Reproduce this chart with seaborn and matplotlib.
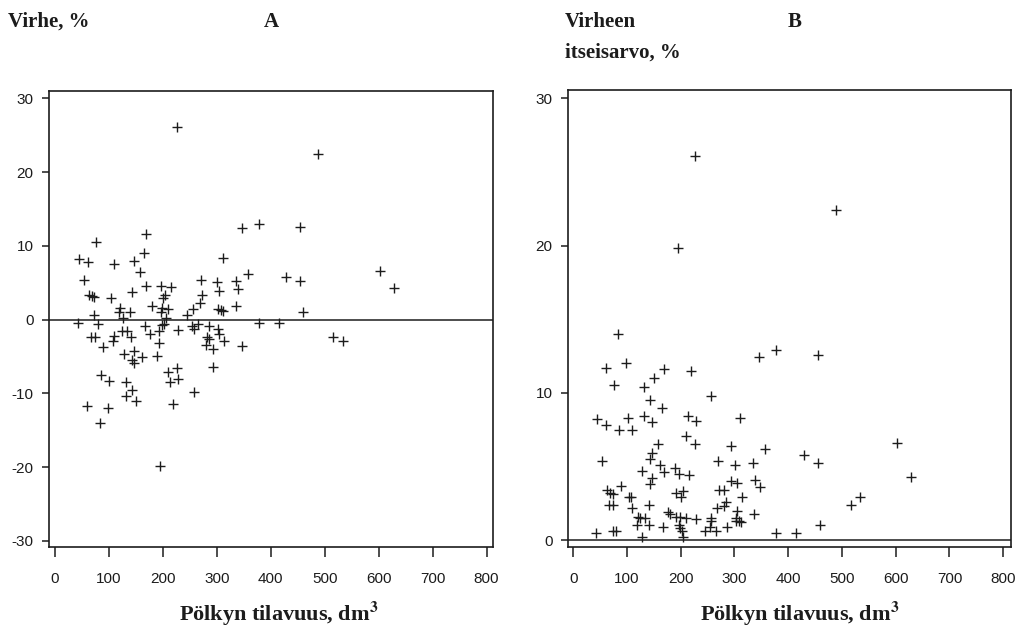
import numpy as np
import pandas as pd
import matplotlib
matplotlib.use("Agg")
import matplotlib.pyplot as plt
import seaborn as sns

# ---- data (panel A: error, %; panel B: absolute error, %) ----
volume_dm3 = [
    227, 488, 168, 76, 346, 378, 455, 45, 61, 110, 146, 165, 157, 311, 357, 53, 168,
    63, 68, 73, 103, 143, 197, 216, 204, 200, 180, 199, 197, 210, 121, 119, 140, 127,
    73, 245, 270, 272, 268, 256, 301, 305, 335, 339, 429, 455, 602, 628, 302, 308, 312,
    336, 460, 205,
    42, 80, 167, 176, 192, 198, 203, 229, 254, 257, 265, 286, 303, 304, 378, 415, 516,
    534, 66, 74, 110, 108, 125, 134, 141, 89, 192, 190, 128, 146, 143, 147, 161, 281,
    285, 280, 293, 314, 347, 293, 226, 209, 213, 229, 257, 219, 85, 101, 131, 143, 131,
    151, 60, 99, 84, 195,
]
error_pct = [
    26.1, 22.4, 11.6, 10.5, 12.4, 12.9, 12.6, 8.2, 7.8, 7.5, 8.0, 9.0, 6.5, 8.3, 6.2, 5.4, 4.6,
    3.4, 3.2, 3.1, 2.9, 3.8, 4.5, 4.4, 3.3, 2.9, 1.8, 1.6, 1.0, 1.5, 1.6, 1.0, 1.0, 0.2,
    0.6, 0.6, 5.4, 3.4, 2.2, 1.5, 5.1, 3.9, 5.2, 4.1, 5.8, 5.2, 6.6, 4.3, 1.5, 1.3, 1.2,
    1.8, 1.0, 0.2,
    -0.5, -0.6, -0.9, -1.9, -1.6, -0.8, -0.6, -1.4, -0.9, -1.3, -0.6, -0.9, -1.3, -2.0, -0.5, -0.5, -2.4,
    -2.9, -2.4, -2.4, -2.2, -2.9, -1.5, -1.5, -2.4, -3.7, -3.2, -4.9, -4.7, -4.2, -5.5, -5.9, -5.1, -2.3,
    -2.6, -3.4, -4.0, -2.9, -3.6, -6.4, -6.5, -7.1, -8.4, -8.1, -9.8, -11.5, -7.5, -8.3, -8.4, -9.5, -10.4,
    -11.0, -11.7, -12.0, -14.0, -19.8,
]
x_ticks = [0, 100, 200, 300, 400, 500, 600, 700, 800]
y_ticks_a = [-30, -20, -10, 0, 10, 20, 30]
y_ticks_b = [0, 10, 20, 30]

df = pd.DataFrame({"volume": volume_dm3, "error": error_pct})
df["abs_error"] = df["error"].abs()   # panel B: itseisarvo (absolute value)

sns.set_style("ticks")
plt.rcParams["font.family"] = ["Liberation Sans", "DejaVu Sans"]
plt.rcParams["axes.unicode_minus"] = False
plt.rcParams["mathtext.fontset"] = "stix"

ink = "#1c1c1c"
W, H = 1026, 628
fig = plt.figure(figsize=(W / 100, H / 100), dpi=100)

def box(l, t, r, b):
    return [l / W, 1 - b / H, (r - l) / W, (b - t) / H]

axA = fig.add_axes(box(49, 91, 493, 546.7))
axB = fig.add_axes(box(567.7, 90, 1010.7, 546.7))

for ax, ycol, yt, ylim, xlim in [
    (axA, "error", y_ticks_a, (-30.8, 31.0), (-11, 812)),
    (axB, "abs_error", y_ticks_b, (-0.45, 30.56), (-10.4, 814)),
]:
    sns.scatterplot(data=df, x="volume", y=ycol, ax=ax, marker="+", s=50,
                    color=ink, linewidth=1.0, legend=False)
    ax.axhline(0, color=ink, lw=1.1, zorder=1)
    ax.set_xlim(*xlim)
    ax.set_ylim(*ylim)
    ax.set_xticks(x_ticks)
    ax.set_yticks(yt)
    ax.set_xlabel("")
    ax.set_ylabel("")
    for sp in ax.spines.values():
        sp.set_visible(True)
        sp.set_color(ink)
        sp.set_linewidth(1.2)
    ax.tick_params(axis="x", direction="out", length=7, width=1.1, pad=11,
                   labelsize=11, colors=ink)
    ax.tick_params(axis="y", direction="out", length=5, width=1.1, pad=6,
                   labelsize=11, colors=ink)

serif = ["Liberation Serif", "DejaVu Serif"]
fig.text(8 / W, 1 - 27 / H, "Virhe, %", family=serif, fontweight="bold",
         fontsize=15, va="baseline", ha="left", color=ink)
fig.text(271 / W, 1 - 27 / H, "A", family=serif, fontweight="bold",
         fontsize=15, va="baseline", ha="center", color=ink)
fig.text(795 / W, 1 - 27 / H, "B", family=serif, fontweight="bold",
         fontsize=15, va="baseline", ha="center", color=ink)
fig.text(565 / W, 1 - 27 / H, "Virheen", family=serif, fontweight="bold",
         fontsize=15, va="baseline", ha="left", color=ink)
fig.text(565 / W, 1 - 58 / H, "itseisarvo, %", family=serif, fontweight="bold",
         fontsize=15, va="baseline", ha="left", color=ink)
xlab = r"Pölkyn tilavuus, dm$^{\mathbf{3}}$"
fig.text(279 / W, 1 - 621 / H, xlab, family=serif, fontweight="bold",
         fontsize=16, va="baseline", ha="center", color=ink)
fig.text(800 / W, 1 - 621 / H, xlab, family=serif, fontweight="bold",
         fontsize=16, va="baseline", ha="center", color=ink)

fig.savefig("out.png", dpi=100, facecolor="white")
